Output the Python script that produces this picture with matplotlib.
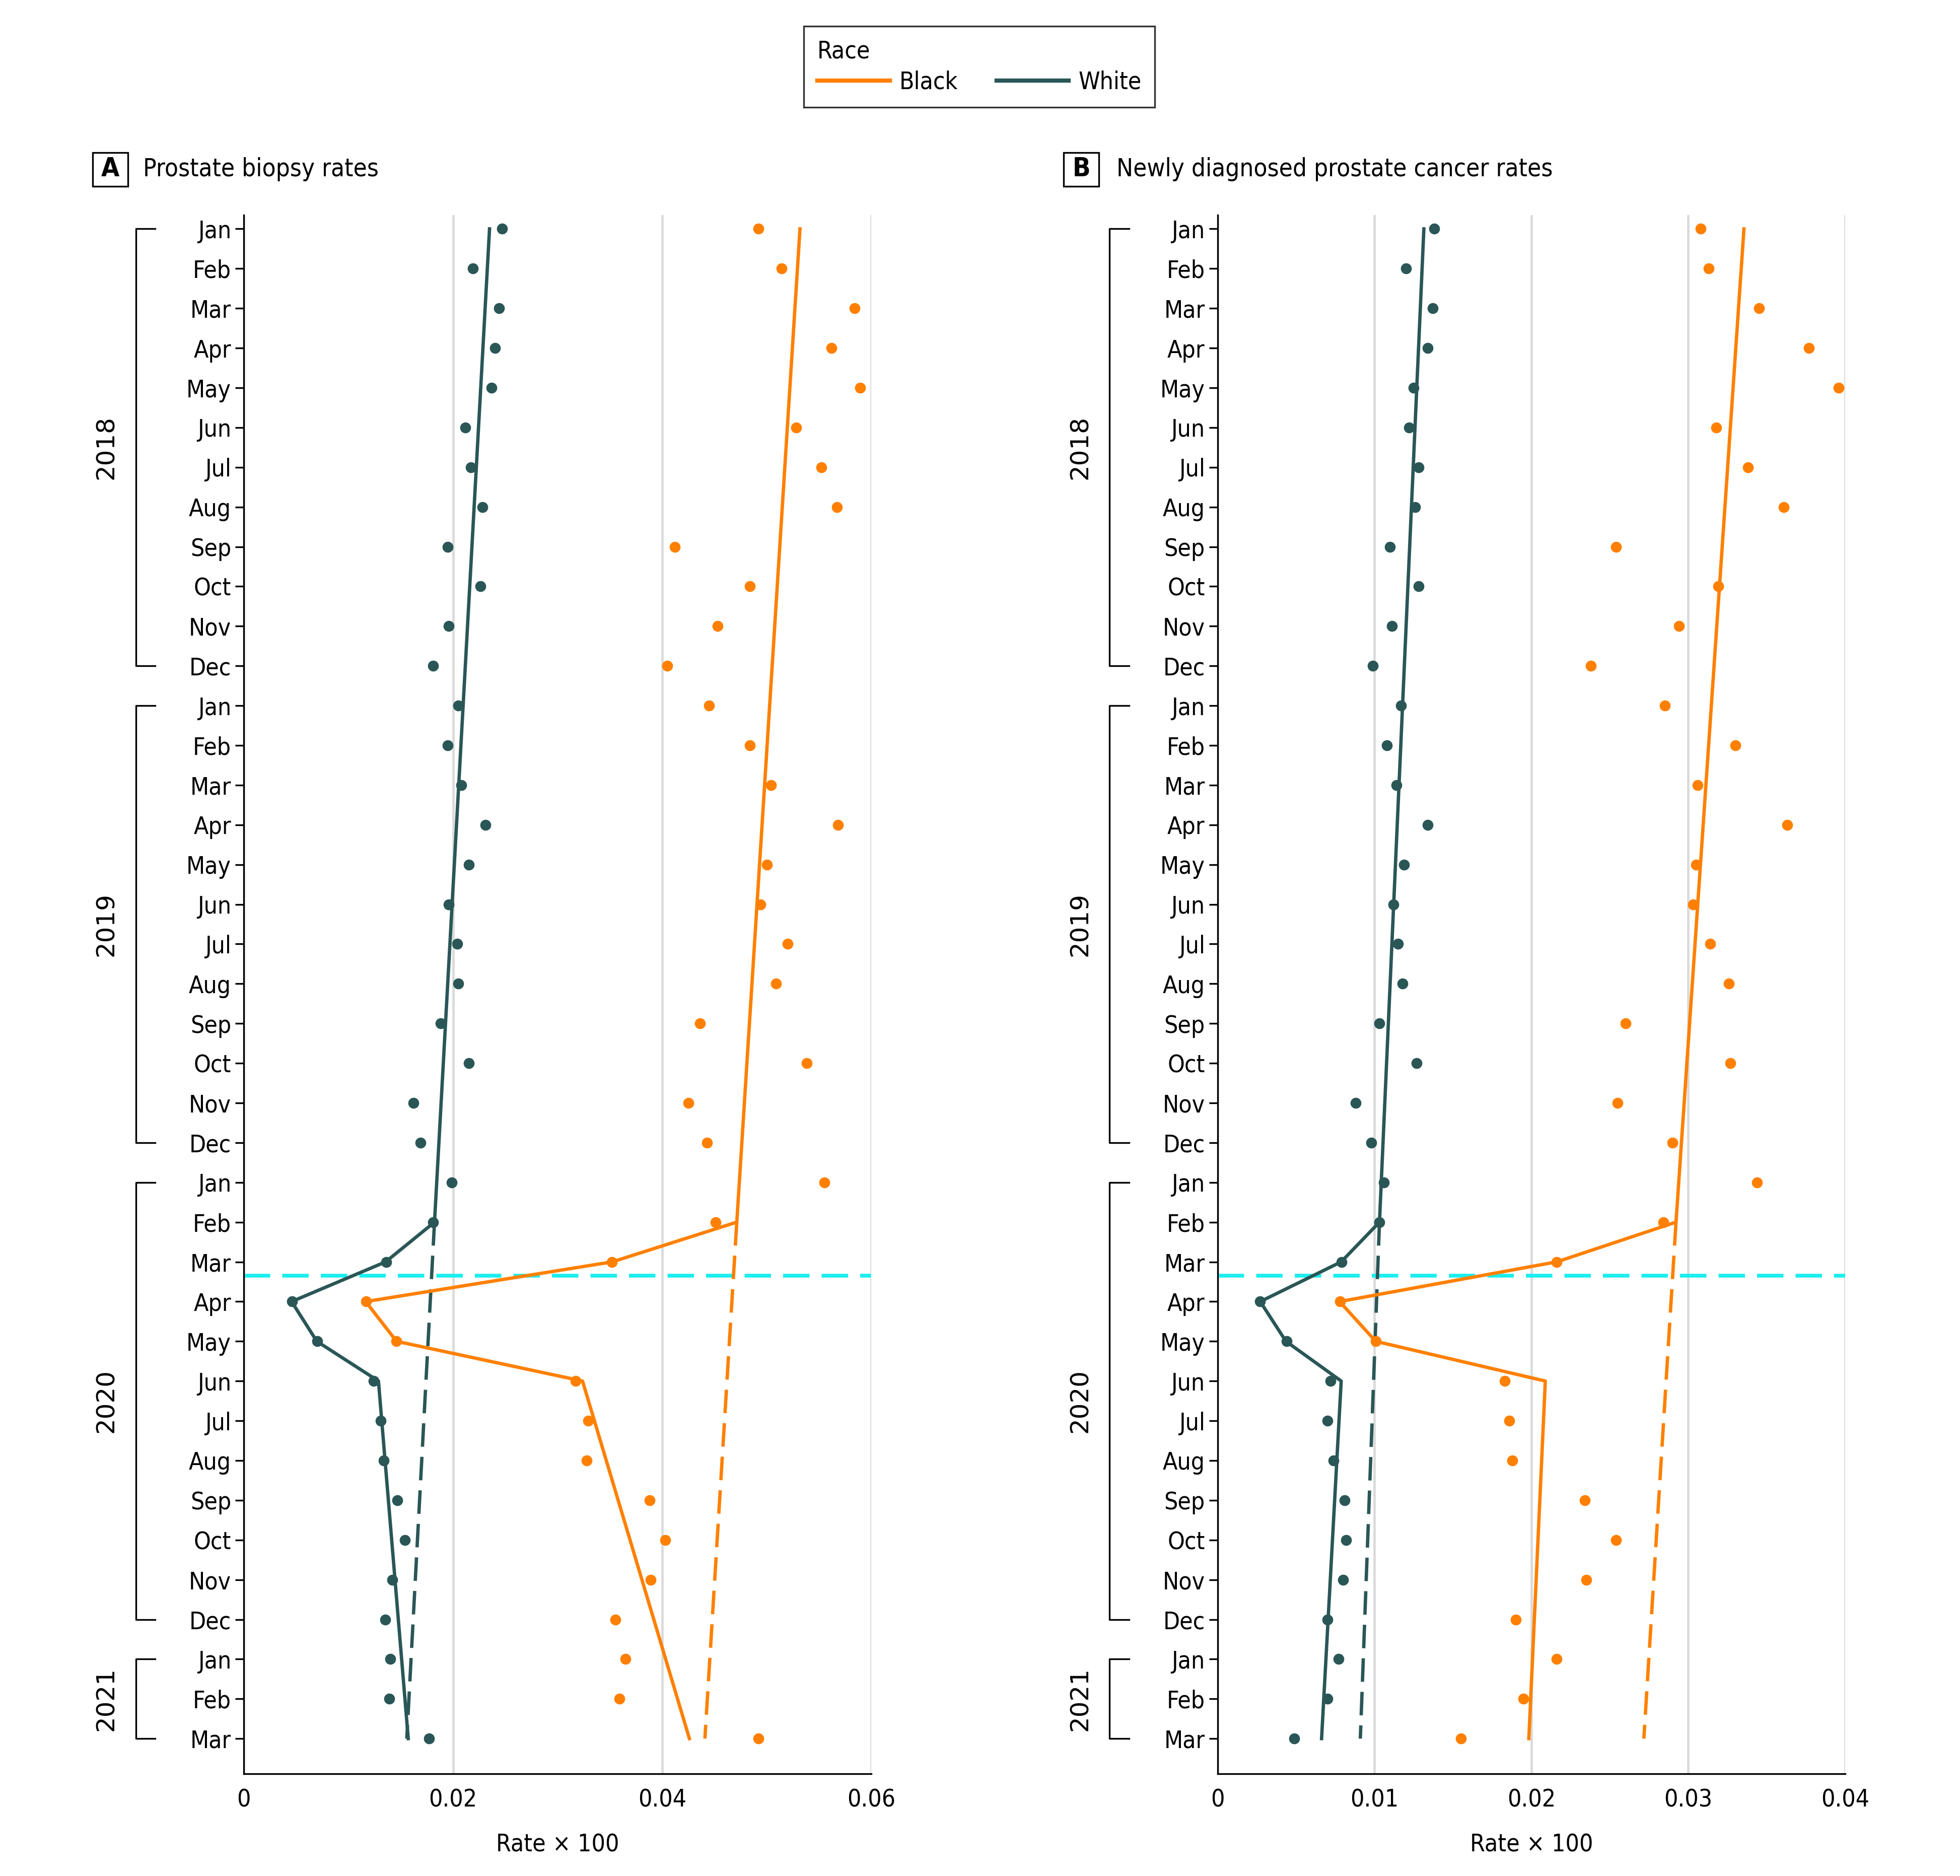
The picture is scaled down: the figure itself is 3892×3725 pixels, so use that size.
import matplotlib
matplotlib.use("Agg")
import matplotlib.pyplot as plt
from matplotlib import font_manager
from matplotlib.lines import Line2D
from matplotlib.patches import Rectangle

month_names = ["Jan", "Feb", "Mar", "Apr", "May", "Jun",
               "Jul", "Aug", "Sep", "Oct", "Nov", "Dec"]
years = ["2018", "2019", "2020", "2021"]
year_lengths = [12, 12, 12, 3]

months = []
month_ids = []
for yr, n in zip(years, year_lengths):
    for m in month_names[:n]:
        months.append(m)
        month_ids.append(m + " " + yr)

# Panel A: prostate biopsy rates (rate x 100)
white_biopsy = [0.0247, 0.0219, 0.0244, 0.0240, 0.0237, 0.0212, 0.0217, 0.0228, 0.0195, 0.0226, 0.0196, 0.0181,
                0.0205, 0.0195, 0.0208, 0.0231, 0.0215, 0.0196, 0.0204, 0.0205, 0.0188, 0.0215, 0.0162, 0.0169,
                0.0199, 0.0181, 0.0136, 0.0046, 0.0070, 0.0124, 0.0131, 0.0134, 0.0147, 0.0154, 0.0142, 0.0135,
                0.0140, 0.0139, 0.0177]
black_biopsy = [0.0492, 0.0514, 0.0584, 0.0562, 0.0589, 0.0528, 0.0552, 0.0567, 0.0412, 0.0484, 0.0453, 0.0405,
                0.0445, 0.0484, 0.0504, 0.0568, 0.0500, 0.0494, 0.0520, 0.0509, 0.0436, 0.0538, 0.0425, 0.0443,
                0.0555, 0.0451, 0.0352, 0.0117, 0.0146, 0.0317, 0.0329, 0.0328, 0.0388, 0.0403, 0.0389, 0.0355,
                0.0365, 0.0359, 0.0492]

# Panel B: newly diagnosed prostate cancer rates (rate x 100)
white_diag = [0.0138, 0.0120, 0.0137, 0.0134, 0.0125, 0.0122, 0.0128, 0.0126, 0.0110, 0.0128, 0.0111, 0.0099,
              0.0117, 0.0108, 0.0114, 0.0134, 0.0119, 0.0112, 0.0115, 0.0118, 0.0103, 0.0127, 0.0088, 0.0098,
              0.0106, 0.0103, 0.0079, 0.0027, 0.0044, 0.0072, 0.0070, 0.0074, 0.0081, 0.0082, 0.0080, 0.0070,
              0.0077, 0.0070, 0.0049]
black_diag = [0.0308, 0.0313, 0.0345, 0.0377, 0.0396, 0.0318, 0.0338, 0.0361, 0.0254, 0.0319, 0.0294, 0.0238,
              0.0285, 0.0330, 0.0306, 0.0363, 0.0305, 0.0303, 0.0314, 0.0326, 0.0260, 0.0327, 0.0255, 0.0290,
              0.0344, 0.0284, 0.0216, 0.0078, 0.0101, 0.0183, 0.0186, 0.0188, 0.0234, 0.0254, 0.0235, 0.0190,
              0.0216, 0.0195, 0.0155]

# fitted (segmented regression) lines
fit_months = ["Jan 2018", "Feb 2020", "Mar 2020", "Apr 2020", "May 2020", "Jun 2020", "Mar 2021"]
white_biopsy_fit = [0.02349, 0.01823, 0.01356, 0.00457, 0.00698, 0.01287, 0.01572]
black_biopsy_fit = [0.05317, 0.04713, 0.03523, 0.01165, 0.01460, 0.03238, 0.04260]
white_diag_fit = [0.01315, 0.01032, 0.00788, 0.00272, 0.00436, 0.00788, 0.00663]
black_diag_fit = [0.03355, 0.02922, 0.02162, 0.00778, 0.01008, 0.02089, 0.01984]

# projected pre-pandemic trend (counterfactual)
cf_months = ["Feb 2020", "Mar 2021"]
white_biopsy_cf = [0.01823, 0.01558]
black_biopsy_cf = [0.04713, 0.04408]
white_diag_cf = [0.01032, 0.00910]
black_diag_cf = [0.02922, 0.02717]

covid_month = "Mar 2020"
covid_offset = 0.35

ORANGE = "#ff8000"
TEAL = "#2a5656"
CYAN = "#19eef0"

# prefer a condensed face for labels, as in the original
fonts = font_manager.fontManager.ttflist
names = {f.name for f in fonts}
cond = [f for f in fonts if f.name == "DejaVu Sans" and f.stretch == "condensed"
        and f.weight in (400, "normal")]
if "Liberation Sans Narrow" in names:
    plt.rcParams["font.family"] = ["Liberation Sans Narrow", "DejaVu Sans"]
elif cond:
    plt.rcParams["font.family"] = ["DejaVu Sans"]
    plt.rcParams["font.stretch"] = "condensed"
else:
    plt.rcParams["font.family"] = ["Liberation Sans", "DejaVu Sans"]


def plot_panel(ax, white, black, white_fit, black_fit, white_cf, black_cf,
               xmax, xticks, xticklabels, letter, title, box_x):
    y = list(range(len(months)))
    fy = [month_ids.index(m) for m in fit_months]
    cy = [month_ids.index(m) for m in cf_months]
    for vals, fit, cf, color in [(white, white_fit, white_cf, TEAL),
                                 (black, black_fit, black_cf, ORANGE)]:
        ax.plot(fit, fy, color=color, lw=1.6, zorder=3)
        ax.plot(cf, cy, color=color, lw=1.6, dashes=(7, 3), zorder=3)
        ax.plot(vals, y, "o", ms=5.2, color=color, mec="none", zorder=4)
    ax.axhline(month_ids.index(covid_month) + covid_offset, color=CYAN, lw=1.8,
               dashes=(7, 3.2), zorder=2)

    ax.set_xlim(0, xmax)
    ax.set_ylim(38.88, -0.35)
    ax.set_yticks(y)
    ax.set_yticklabels(months, fontsize=11.5)
    ax.set_xticks(xticks)
    ax.set_xticklabels(xticklabels, fontsize=11.5)
    ax.grid(axis="x", color="#d9d9d9", lw=1.1)
    ax.set_axisbelow(True)
    for s in ["top", "right"]:
        ax.spines[s].set_visible(False)
    for s in ["left", "bottom"]:
        ax.spines[s].set_linewidth(0.8)
    ax.tick_params(axis="y", length=4, width=0.8, pad=2)
    ax.tick_params(axis="x", length=0, pad=7)
    ax.set_xlabel("Rate \u00d7 100", fontsize=11.5, labelpad=10)

    # year brackets
    trans = ax.get_yaxis_transform()
    start = 0
    for yr, n in zip(years, year_lengths):
        s, e = start, start + n - 1
        ax.plot([-0.141, -0.172, -0.172, -0.141], [s, s, e, e], color="black",
                lw=0.8, transform=trans, clip_on=False)
        ax.text(-0.219, (s + e) / 2, yr, rotation=90, ha="center", va="center",
                fontsize=12, family="DejaVu Sans", fontstretch="normal",
                transform=trans)
        start += n

    # panel label
    ax.add_patch(Rectangle((box_x, 1.0184), 0.056, 0.0217, transform=ax.transAxes,
                           fc="white", ec="black", lw=0.8, clip_on=False))
    ax.text(box_x + 0.028, 1.0293, letter, transform=ax.transAxes, ha="center",
            va="center", fontsize=12.5, fontweight="bold")
    ax.text(-0.161, 1.0293, title, transform=ax.transAxes, ha="left",
            va="center", fontsize=11.8)


fig = plt.figure(figsize=(3892 / 300, 3725 / 300), dpi=300)
ax_a = fig.add_axes([0.1244, 0.0546, 0.3202, 0.8308])
ax_b = fig.add_axes([0.6212, 0.0546, 0.3202, 0.8308])

plot_panel(ax_a, white_biopsy, black_biopsy, white_biopsy_fit, black_biopsy_fit,
           white_biopsy_cf, black_biopsy_cf, 0.06, [0, 0.02, 0.04, 0.06],
           ["0", "0.02", "0.04", "0.06"], "A", "Prostate biopsy rates", -0.241)
plot_panel(ax_b, white_diag, black_diag, white_diag_fit, black_diag_fit,
           white_diag_cf, black_diag_cf, 0.04, [0, 0.01, 0.02, 0.03, 0.04],
           ["0", "0.01", "0.02", "0.03", "0.04"], "B",
           "Newly diagnosed prostate cancer rates", -0.245)

handles = [Line2D([], [], color=ORANGE, lw=2), Line2D([], [], color=TEAL, lw=2)]
leg = fig.legend(handles, ["Black", "White"], title="Race", loc="upper center",
                 bbox_to_anchor=(0.4997, 0.9925), ncol=2, fontsize=11.5,
                 title_fontsize=11.5, frameon=True, fancybox=False,
                 handlelength=3.0, handletextpad=0.4, columnspacing=1.6,
                 alignment="left", borderpad=0.55, labelspacing=0.3)
leg.get_frame().set_edgecolor("black")
leg.get_frame().set_linewidth(0.8)

fig.savefig("out.png", dpi=300, facecolor="white")
